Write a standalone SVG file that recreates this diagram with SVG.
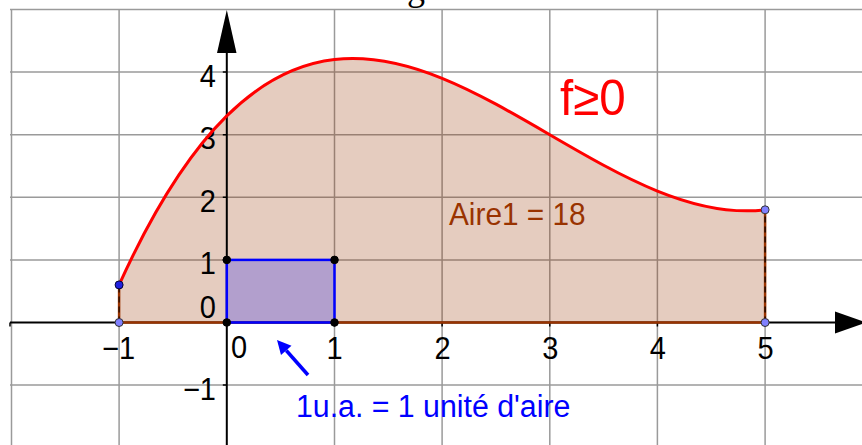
<svg xmlns="http://www.w3.org/2000/svg" width="862" height="445" viewBox="0 0 862 445">
  <style>
    .grid { stroke: #9a9a9a; stroke-width: 1.5; fill: none; }
    .axis { stroke: #000; stroke-width: 2; fill: none; }
    .tick { stroke: #000; stroke-width: 1.5; }
    .lbl { font-family: "Liberation Sans", Arial, sans-serif; font-size: 29px; fill: #000; }
    .pt-dark { fill: #000; stroke: #000; stroke-width: 1; }
    .pt-light { fill: #8080ff; stroke: #333; stroke-width: 1; }
  </style>
  <rect x="0" y="0" width="862" height="445" fill="#fff"/>
  <text x="377" y="0" font-family="Liberation Serif, serif" font-size="36" fill="#000">Figure 1</text>
  <g id="grid">
    <path class="grid" d="M11.5,9 V445 M119.1,9 V445 M334.5,9 V445 M442.1,9 V445 M549.8,9 V445 M657.4,9 V445 M765.1,9 V445 M10,9.5 H862 M10,72.1 H862 M10,134.7 H862 M10,197.3 H862 M10,259.9 H862 M10,385.1 H862"/>
  </g>
  <g id="area">
    <path d="M119.1,322.5 L119.1,284.9 C334.5,-190.8 549.8,234.9 765.1,209.8 L765.1,322.5 Z" fill="#993300" fill-opacity="0.25" stroke="none"/>
  </g>
  <g id="axes">
    <line class="axis" x1="10" y1="322.5" x2="840" y2="322.5"/>
    <polygon points="835,311.5 866,322.5 835,333.5" fill="#000"/>
    <line class="axis" x1="226.8" y1="445" x2="226.8" y2="48"/>
    <polygon points="217,53 226.8,10 236.5,53" fill="#000"/>
    <path class="tick" d="M10,322.5 v4 M119.1,322.5 v4 M334.5,322.5 v4 M442.1,322.5 v4 M549.8,322.5 v4 M657.4,322.5 v4 M765.1,322.5 v4 M226.8,72.1 h-4 M226.8,134.7 h-4 M226.8,197.3 h-4 M226.8,259.9 h-4 M226.8,385.1 h-4"/>
  </g>
  <g id="labels">
    <text class="lbl" transform="translate(118.5,359) scale(1,1.07)" text-anchor="middle">−1</text>
    <text class="lbl" transform="translate(231,358) scale(1,1.07)">0</text>
    <text class="lbl" transform="translate(334.5,359) scale(1,1.07)" text-anchor="middle">1</text>
    <text class="lbl" transform="translate(442.6,359) scale(1,1.07)" text-anchor="middle">2</text>
    <text class="lbl" transform="translate(550.3,359) scale(1,1.07)" text-anchor="middle">3</text>
    <text class="lbl" transform="translate(657.9,359) scale(1,1.07)" text-anchor="middle">4</text>
    <text class="lbl" transform="translate(765.6,359) scale(1,1.07)" text-anchor="middle">5</text>
    <text class="lbl" transform="translate(216,86.6) scale(1,1.07)" text-anchor="end">4</text>
    <text class="lbl" transform="translate(216,148.5) scale(1,1.07)" text-anchor="end">3</text>
    <text class="lbl" transform="translate(216,211.5) scale(1,1.07)" text-anchor="end">2</text>
    <text class="lbl" transform="translate(216,274.4) scale(1,1.07)" text-anchor="end">1</text>
    <text class="lbl" transform="translate(216,318) scale(1,1.07)" text-anchor="end">0</text>
    <text class="lbl" transform="translate(216,399.5) scale(1,1.07)" text-anchor="end">−1</text>
  </g>
  <g id="area-edges">
    <line x1="119.1" y1="322.5" x2="765.1" y2="322.5" stroke="#993300" stroke-width="2.5"/>
    <line x1="119.1" y1="322.5" x2="119.1" y2="284.9" stroke="#993300" stroke-width="2.5"/>
    <line x1="119.1" y1="322.5" x2="119.1" y2="284.9" stroke="#000" stroke-width="1" stroke-dasharray="6,4"/>
    <line x1="765.1" y1="322.5" x2="765.1" y2="209.8" stroke="#993300" stroke-width="2.5"/>
    <line x1="765.1" y1="322.5" x2="765.1" y2="209.8" stroke="#000" stroke-width="1.2" stroke-dasharray="6,4"/>
  </g>
  <g id="curve">
    <path d="M119.1,284.9 C334.5,-190.8 549.8,234.9 765.1,209.8" fill="none" stroke="#ff0000" stroke-width="3"/>
  </g>
  <g id="unit-square">
    <rect x="226.8" y="259.9" width="107.7" height="62.6" fill="#0000ff" fill-opacity="0.22" stroke="#0000ff" stroke-width="2.5"/>
    <circle class="pt-dark" cx="226.8" cy="259.9" r="3.8"/>
    <circle class="pt-dark" cx="334.5" cy="259.9" r="3.8"/>
    <circle class="pt-dark" cx="226.8" cy="322.5" r="3.8"/>
    <circle class="pt-dark" cx="334.5" cy="322.5" r="3.8"/>
  </g>
  <g id="points">
    <circle cx="119.1" cy="284.9" r="4" fill="#2020e0" stroke="#000033" stroke-width="1"/>
    <circle class="pt-light" cx="119.1" cy="322.5" r="4"/>
    <circle class="pt-light" cx="765.1" cy="209.8" r="4"/>
    <circle class="pt-light" cx="765.1" cy="322.5" r="4"/>
  </g>
  <g id="text-f">
    <text transform="translate(560,115) scale(1,1.06)" font-family="Liberation Sans, Arial, sans-serif" font-size="47.5" fill="#ff0000">f≥0</text>
  </g>
  <g id="text-aire">
    <text transform="translate(449,225) scale(1,1.08)" font-family="Liberation Sans, Arial, sans-serif" font-size="29.8" fill="#993300">Aire1 = 18</text>
  </g>
  <g id="connectors">
    <line x1="308" y1="375" x2="286.3" y2="350.5" stroke="#0000ff" stroke-width="3.5"/>
    <polygon points="277,340 291.5,345.8 281,355.1" fill="#0000ff"/>
  </g>
  <g id="text-ua">
    <text transform="translate(296,417) scale(1,1.05)" font-family="Liberation Sans, Arial, sans-serif" font-size="30.3" fill="#0000ff">1u.a. = 1 unité d'aire</text>
  </g>
</svg>
